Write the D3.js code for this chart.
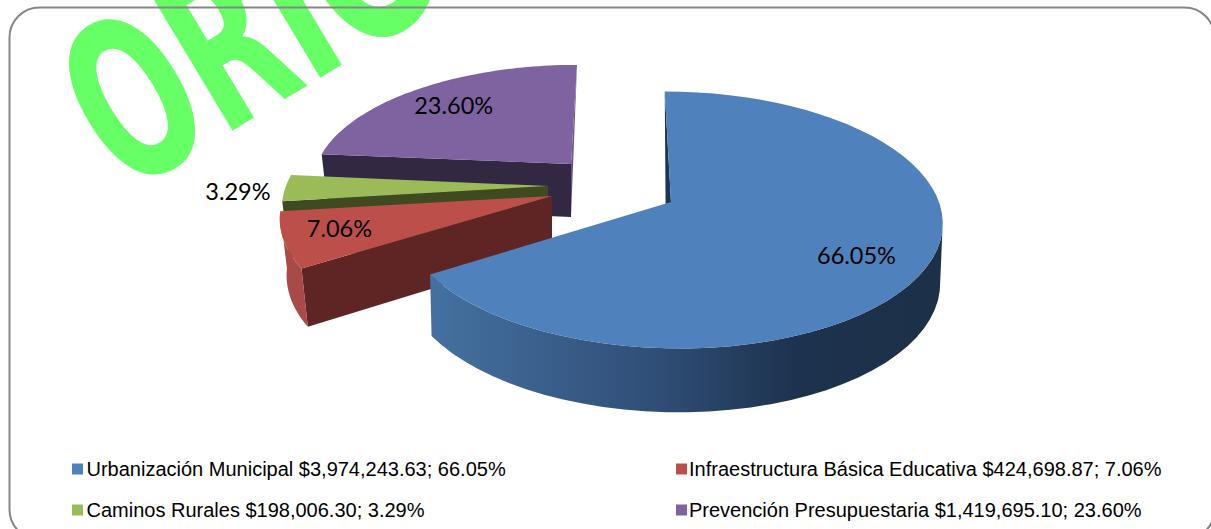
<!DOCTYPE html>
<html>
<head>
<meta charset="utf-8">
<script src="https://d3js.org/d3.v7.min.js"></script>
<style>
  html, body { margin: 0; padding: 0; background: #fff; overflow: hidden; }
  svg { display: block; }
</style>
</head>
<body>
<svg id="chart" width="1211" height="529"></svg>
<script>
// data
const categories = ["Urbanización Municipal", "Infraestructura Básica Educativa", "Caminos Rurales", "Prevención Presupuestaria"];
const amounts = [3974243.63, 424698.87, 198006.30, 1419695.10];
const amountLabels = ["$3,974,243.63", "$424,698.87", "$198,006.30", "$1,419,695.10"];
const percentLabels = ["66.05%", "7.06%", "3.29%", "23.60%"];

const width = 1211, height = 529;
const topColors = ["#4f81bd", "#bd4f4b", "#9bbb59", "#7f62a0"];
const cutColors = ["#1d3550", "#5e2524", "#404a20", "#332841"];
const rimColors = ["url(#blueRim)", "#a84a47", "#404a20", "#332841"];

// one placed wedge per slice: apex on screen, radii, label distance
const layout = [
  { ax: 671, ay: 202, rx: 268, ry: 126, depth: 59, sink: 0.008, backShift: -5, labelR: 0.74, labelDy: 6 },
  { ax: 552, ay: 196, rx: 268, ry: 126, depth: 56, sink: 0.02, backShift: 0, labelR: 0.8, labelDy: -2 },
  { ax: 548, ay: 186, rx: 262, ry: 126, depth: 56, sink: 0.02, backShift: 0, labelR: 1.18, labelDy: 4 },
  { ax: 571, ay: 164, rx: 254, ry: 113, depth: 53, sink: 0.02, backShift: 0, labelR: 0.76, labelDy: 1 },
];
const persp = 0.14, vanishX = 620;

const svg = d3.select("#chart");

const defs = svg.append("defs");
const grad = defs.append("linearGradient")
  .attr("id", "blueRim")
  .attr("gradientUnits", "userSpaceOnUse")
  .attr("x1", 432).attr("x2", 940).attr("y1", 0).attr("y2", 0);
[[0, "#44709f"], [0.15, "#3e6593"], [0.45, "#2f4d75"], [0.72, "#1d324e"], [1, "#1c3048"]]
  .forEach((s) => grad.append("stop").attr("offset", s[0]).attr("stop-color", s[1]));

// watermark, runs off the top of the page
svg.append("text")
  .attr("transform", "translate(125,195) rotate(-31) scale(0.95,1.58)")
  .attr("font-family", "DejaVu Sans")
  .attr("font-weight", "bold")
  .attr("font-size", 140)
  .attr("fill", "#66ff66")
  .text("ORIGINAL");

// ground plane -> screen
function project(l, angle, r, down) {
  const u = Math.sin(angle) * r, v = -Math.cos(angle) * r;
  const s = 1 / (1 - persp * v);
  let x = l.ax + u * l.rx * s + (vanishX - l.ax) * (1 - s);
  let y = l.ay + v * l.ry * s;
  if (down) {
    x += (vanishX - x) * l.sink;
    y += l.depth * (1 + (s - 1) * 0.5);
  }
  return [x, y];
}

const line = d3.line();
const arcs = d3.pie().sort(null)(amounts);

const rimAngles = (a) =>
  d3.range(0, 61).map((i) => a.startAngle + (a.endAngle - a.startAngle) * i / 60);

// back to front
[3, 2, 1, 0].forEach((i) => {
  const a = arcs[i], l = layout[i];
  const g = svg.append("g").attr("class", "slice");
  const apex = [l.ax, l.ay], apexDown = [l.ax + l.backShift, l.ay + l.depth];
  const angles = rimAngles(a);
  const top = angles.map((t) => project(l, t, 1, false));

  if (i === 0 || i === 3) {
    // cut that is nearly edge on: first edge for blue, last edge for purple
    const edge = i === 0 ? top[0] : top[60];
    g.append("path")
      .attr("d", line([edge, apex, apexDown]) + "Z")
      .attr("fill", i === 3 ? "#6c5390" : cutColors[i]);
  }
  if (i > 0) {
    // cut that faces the viewer
    const down = project(l, a.startAngle, 1, true);
    g.append("path")
      .attr("d", line([apex, top[0], down, apexDown]) + "Z")
      .attr("fill", cutColors[i]);
  }
  // outer wall, only the part of the rim turned toward the viewer
  const front = angles.filter((t) => -Math.cos(t) > 0.12);
  if (front.length > 1) {
    const upper = front.map((t) => project(l, t, 1, false));
    const lower = front.map((t) => project(l, t, 1, true));
    g.append("path")
      .attr("d", line(upper.concat(lower.reverse())) + "Z")
      .attr("fill", rimColors[i]);
  }
  // top face
  g.append("path")
    .attr("d", line([apex].concat(top)) + "Z")
    .attr("fill", topColors[i]);
});

// data labels
arcs.forEach((a, i) => {
  const p = project(layout[i], (a.startAngle + a.endAngle) / 2, layout[i].labelR, false);
  svg.append("text")
    .attr("x", p[0]).attr("y", p[1] + layout[i].labelDy)
    .attr("dy", "0.35em")
    .attr("text-anchor", "middle")
    .attr("font-family", "Lato")
    .attr("font-size", 23.5)
    .attr("fill", "#000")
    .text(percentLabels[i]);
});

// frame sits above the watermark
svg.append("rect")
  .attr("x", 9.5).attr("y", 7.5)
  .attr("width", 1205).attr("height", 532)
  .attr("rx", 30).attr("ry", 30)
  .attr("fill", "none")
  .attr("stroke", "#868686")
  .attr("stroke-width", 2);

// legend
const legendX = [72, 676], legendY = [469, 510], legendGap = [14.5, 13];
categories.forEach((c, i) => {
  const col = i % 2, row = Math.floor(i / 2);
  svg.append("rect")
    .attr("x", legendX[col]).attr("y", legendY[row] - 5.5)
    .attr("width", 11).attr("height", 11)
    .attr("fill", topColors[i]);
  svg.append("text")
    .attr("x", legendX[col] + legendGap[col]).attr("y", legendY[row])
    .attr("dy", "0.35em")
    .attr("font-family", "Liberation Sans")
    .attr("font-size", 20)
    .attr("fill", "#000")
    .text(`${c} ${amountLabels[i]}; ${percentLabels[i]}`);
});
</script>
</body>
</html>
